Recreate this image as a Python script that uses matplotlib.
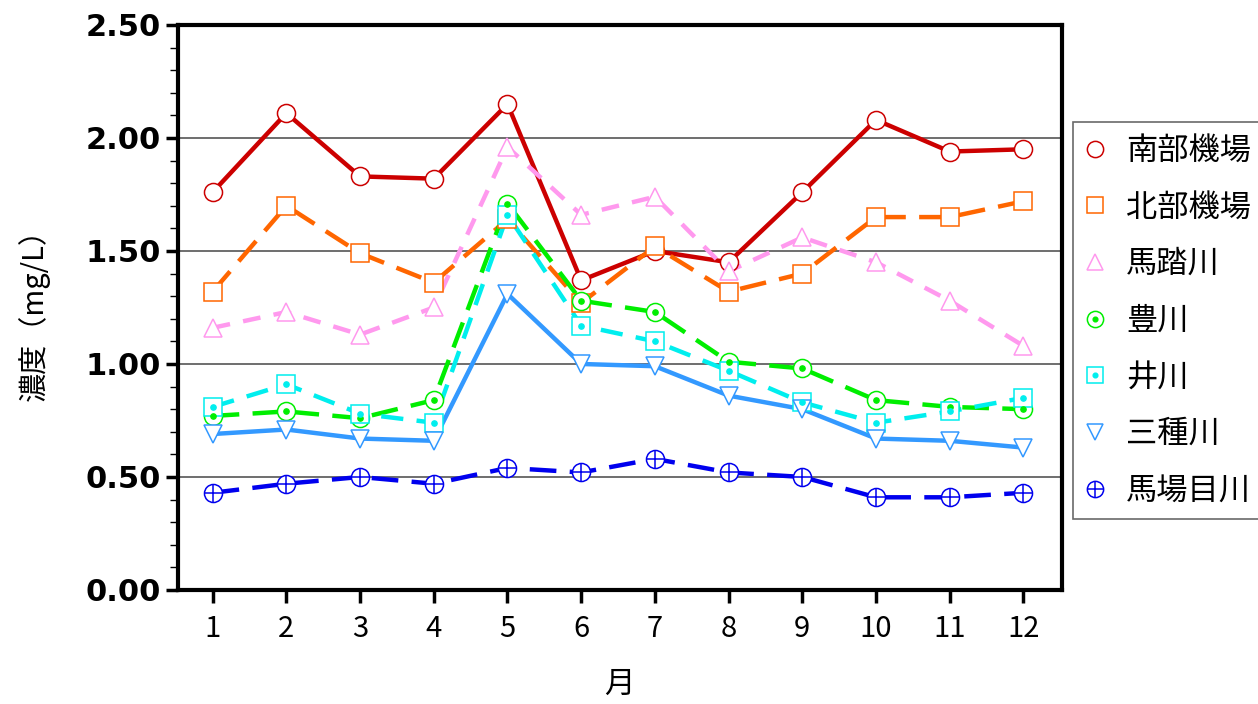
import numpy as np
import matplotlib
matplotlib.use("Agg")
import matplotlib.pyplot as plt
from matplotlib.lines import Line2D

plt.rcParams['font.family'] = ['Noto Sans CJK JP', 'DejaVu Sans']

# months and series (mg/L)
months = np.arange(1, 13)
nanbu = [1.76, 2.11, 1.83, 1.82, 2.15, 1.37, 1.50, 1.45, 1.76, 2.08, 1.94, 1.95]
hokubu = [1.32, 1.70, 1.49, 1.36, 1.64, 1.27, 1.52, 1.32, 1.40, 1.65, 1.65, 1.72]
mafumi = [1.16, 1.23, 1.13, 1.25, 1.96, 1.66, 1.74, 1.41, 1.56, 1.45, 1.28, 1.08]
toyokawa = [0.77, 0.79, 0.76, 0.84, 1.71, 1.28, 1.23, 1.01, 0.98, 0.84, 0.81, 0.80]
ikawa = [0.81, 0.91, 0.78, 0.74, 1.66, 1.17, 1.10, 0.97, 0.83, 0.74, 0.79, 0.85]
mitane = [0.69, 0.71, 0.67, 0.66, 1.31, 1.00, 0.99, 0.86, 0.80, 0.67, 0.66, 0.63]
babame = [0.43, 0.47, 0.50, 0.47, 0.54, 0.52, 0.58, 0.52, 0.50, 0.41, 0.41, 0.43]

labels = ['南部機場', '北部機場', '馬踏川', '豊川', '井川', '三種川', '馬場目川']

fig = plt.figure(figsize=(12.58, 7.04), dpi=100)
ax = fig.add_axes([0.1415, 0.162, 0.7025, 0.8025])

ms = 13
lw = 3.2
handles = []

def series(y, color, ls, marker, label, dot=False, plus=False):
    ax.plot(months, y, color=color, lw=lw, ls=ls, zorder=2)
    ax.plot(months, y, ls='none', marker=marker, ms=ms, mfc='white',
            mec=color, mew=1.1, zorder=3)
    if dot:
        ax.plot(months, y, ls='none', marker='o', ms=3.8, color=color, zorder=4)
    if plus:
        ax.plot(months, y, ls='none', marker='+', ms=ms, mec=color, mew=1.1, zorder=4)
    # legend handle: marker (with dot / cross overlay)
    h = [Line2D([], [], ls='none', marker=marker, ms=ms * 0.9, mfc='white',
                mec=color, mew=1.1)]
    if dot:
        h.append(Line2D([], [], ls='none', marker='o', ms=3.4, color=color))
    if plus:
        h.append(Line2D([], [], ls='none', marker='+', ms=ms * 0.9, mec=color, mew=1.1))
    handles.append(tuple(h))

series(nanbu, '#cc0000', '-', 'o', labels[0])
series(hokubu, '#ff6600', (0, (6, 3)), 's', labels[1])
series(mafumi, '#ff99ee', (0, (4, 3)), '^', labels[2])
series(toyokawa, '#00ee00', (0, (6, 3)), 'o', labels[3], dot=True)
series(ikawa, '#00eeee', (0, (5, 3)), 's', labels[4], dot=True)
series(mitane, '#3399ff', '-', 'v', labels[5])
series(babame, '#0000ee', (0, (6, 3)), 'o', labels[6], plus=True)

ax.set_xlim(0.53, 12.52)
ax.set_ylim(0, 2.5)
yt = [0, 0.5, 1.0, 1.5, 2.0, 2.5]
ax.set_yticks(yt)
ax.set_yticks(np.arange(0, 2.5, 0.1), minor=True)
ax.set_yticklabels(['%.2f' % v for v in yt],
                   fontsize=22, fontweight='bold', family='DejaVu Sans')
ax.set_xticks(months)
ax.set_xticklabels([str(m) for m in months], fontsize=21)
ax.yaxis.grid(True, color='#555555', lw=1.2)
ax.set_axisbelow(True)
ax.tick_params(axis='y', which='major', length=9, width=2.5, direction='out', pad=3)
ax.tick_params(axis='y', which='minor', length=6, width=1.0, direction='out')
ax.tick_params(axis='x', which='major', length=9, width=2.5, direction='out', pad=8)
for s in ax.spines.values():
    s.set_linewidth(3)

ax.set_ylabel('濃度（mg/L）', fontsize=21, labelpad=26)
ax.set_xlabel('月', fontsize=22, labelpad=18)

leg = ax.legend(handles, labels, loc='upper left', bbox_to_anchor=(1.013, 0.828),
                fontsize=22.5, frameon=True, fancybox=False, edgecolor='#444444',
                handlelength=0.6, handletextpad=0.7, labelspacing=0.79,
                borderpad=0.4, borderaxespad=0)
leg.get_frame().set_linewidth(1.2)

fig.savefig('out.png', dpi=100)
